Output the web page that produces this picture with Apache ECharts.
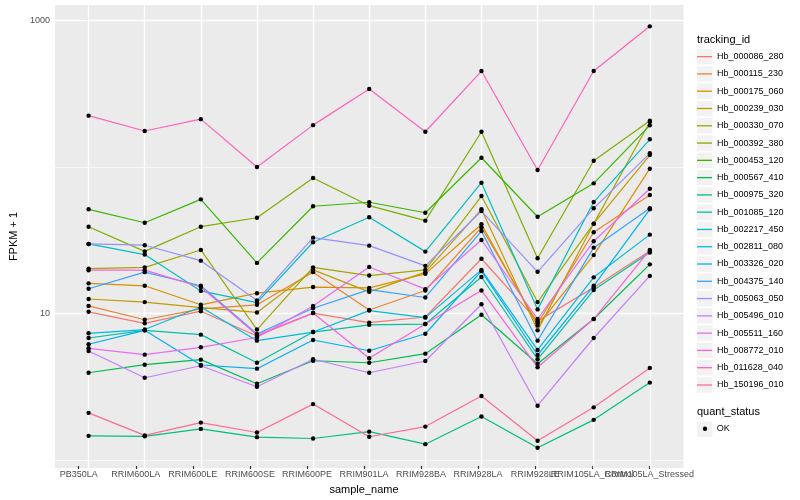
<!DOCTYPE html>
<html><head><meta charset="utf-8">
<script src="https://cdn.jsdelivr.net/npm/echarts@6/dist/echarts.min.js"></script>
<style>html,body{margin:0;padding:0;background:#fff}#c{width:800px;height:500px}</style>
</head><body><div id="c"></div>
<script>
const categories = ['PB350LA','RRIM600LA','RRIM600LE','RRIM600SE','RRIM600PE','RRIM901LA','RRIM928BA','RRIM928LA','RRIM928LE','RRIM105LA_Control','RRIM105LA_Stressed'];
const trackingIds = ['Hb_000086_280','Hb_000115_230','Hb_000175_060','Hb_000239_030','Hb_000330_070','Hb_000392_380','Hb_000453_120','Hb_000567_410','Hb_000975_320','Hb_001085_120','Hb_002217_450','Hb_002811_080','Hb_003326_020','Hb_004375_140','Hb_005063_050','Hb_005496_010','Hb_005511_160','Hb_008772_010','Hb_011628_040','Hb_150196_010'];
const lineColors = ['#F8766D','#EA8331','#D89000','#C09B00','#A3A500','#7CAE00','#39B600','#00BB4E','#00BF7D','#00C1A3','#00BFC4','#00BAE0','#00B0F6','#35A2FF','#9590FF','#C77CFF','#E76BF3','#FA62DB','#FF62BC','#FF6C91'];
const yTickLabels = [10, 1000];
const yMinorLines = [1, 100];
const quantStatus = ['OK'];

const hb_000086_280 = [10.3, 8.6, 10.4, 7.05, 10.1, 8.7, 9.5, 23.7, 8.9, 15.1, 26.8];
const hb_000115_230 = [11.3, 9.1, 10.8, 11.5, 19.2, 10.6, 14.4, 38.8, 8.6, 35.9, 64.5];
const hb_000175_060 = [16.1, 15.5, 11.5, 13.8, 15.2, 15.0, 18.7, 40.7, 8.3, 25.1, 97.4];
const hb_000239_030 = [12.6, 12.0, 11.0, 10.2, 19.9, 14.1, 19.2, 51.5, 7.7, 41.1, 120.7];
const hb_000330_070 = [20.3, 20.7, 27.2, 7.8, 20.7, 18.2, 19.9, 63.4, 12.0, 41.1, 202.7];
const hb_000392_380 = [39.2, 26.6, 39.2, 45.1, 84.1, 54.5, 43.1, 174, 23.9, 110.4, 206.8];
const hb_000453_120 = [51.5, 41.7, 60.2, 22.2, 54.0, 57.5, 48.8, 115.7, 45.8, 77.4, 192.4];
const hb_000567_410 = [3.96, 4.49, 4.86, 3.33, 4.78, 4.63, 5.34, 9.84, 4.56, 9.2, 21.7];
const hb_000975_320 = [1.47, 1.46, 1.64, 1.44, 1.41, 1.57, 1.29, 1.99, 1.22, 1.89, 3.39];
const hb_001085_120 = [6.83, 7.7, 7.2, 4.63, 7.5, 8.4, 8.5, 17.8, 4.89, 14.5, 26.1];
const hb_002217_450 = [29.9, 25.3, 14.3, 11.9, 30.7, 45.4, 26.5, 78.2, 10.7, 57.7, 154.5];
const hb_002811_080 = [7.35, 7.8, 11.1, 6.55, 7.5, 10.5, 9.4, 19.9, 5.66, 17.7, 34.6];
const hb_003326_020 = [6.19, 7.7, 4.47, 4.22, 6.62, 5.59, 7.3, 19.5, 5.23, 15.5, 51.5];
const hb_004375_140 = [14.8, 19.2, 15.5, 7.27, 10.9, 14.6, 12.9, 36.6, 6.55, 28.2, 52.3];
const hb_005063_050 = [29.9, 29.3, 23.0, 12.3, 33.0, 29.1, 21.2, 50.1, 19.3, 52.3, 124];
const hb_005496_010 = [5.57, 3.66, 4.42, 3.18, 4.89, 3.96, 4.76, 11.6, 2.36, 6.83, 18.1];
const hb_005511_160 = [5.81, 5.26, 5.90, 6.88, 11.3, 20.8, 14.7, 31.8, 9.2, 31.2, 71.1];
const hb_008772_010 = [19.8, 19.8, 15.2, 7.16, 10.1, 4.97, 8.5, 14.4, 4.31, 9.2, 27.2];
const hb_011628_040 = [224, 176, 212, 100, 193, 340, 174, 451, 95.4, 451, 910];
const hb_150196_010 = [2.11, 1.48, 1.81, 1.55, 2.42, 1.45, 1.70, 2.75, 1.36, 2.30, 4.26];

const seriesValues = [hb_000086_280, hb_000115_230, hb_000175_060, hb_000239_030, hb_000330_070, hb_000392_380, hb_000453_120, hb_000567_410, hb_000975_320, hb_001085_120, hb_002217_450, hb_002811_080, hb_003326_020, hb_004375_140, hb_005063_050, hb_005496_010, hb_005511_160, hb_008772_010, hb_011628_040, hb_150196_010];

const FONT = 'Liberation Sans, Arial, sans-serif';
const catIdx = categories.map((c, i) => i);
const PANEL = {left: 44.5, top: 5, width: 639, height: 463};
const STEP_X = PANEL.width / 11.2;
const KEY = {x: 697, top: 48, step: 17.28, w: 15.5};
const LINE_ICON = 'path://M0,0L0,0M0,8.0L15,8.0L15,9.3L0,9.3ZM15,17.28L15,17.28';
const MAJOR_W = 1.3, MINOR_W = 0.65;

const lineSeries = trackingIds.map((name, k) => ({
  type: 'line', name: name, z: 2, xAxisIndex: 0, yAxisIndex: 0,
  data: seriesValues[k].map((v, i) => [i, v]),
  symbol: 'none', showSymbol: false,
  lineStyle: {color: lineColors[k], width: 1.2},
  itemStyle: {color: lineColors[k]},
  emphasis: {disabled: true}, silent: true
}));

const pointSeries = {
  type: 'scatter', name: quantStatus[0], z: 3, xAxisIndex: 0, yAxisIndex: 0,
  data: seriesValues.flatMap(vals => vals.map((v, i) => [i, v])),
  symbol: 'circle', symbolSize: 4.4,
  itemStyle: {color: '#000000', opacity: 1, borderWidth: 0},
  emphasis: {disabled: true}, silent: true
};

const gridLineSeries = {
  type: 'line', name: '_grid', z: 1, data: [], silent: true, xAxisIndex: 0, yAxisIndex: 0,
  markLine: {
    z: 1, zlevel: 0,
    silent: true, symbol: 'none', animation: false, label: {show: false},
    emphasis: {disabled: true},
    lineStyle: {color: '#FFFFFF', type: 'solid', width: MAJOR_W},
    data: [
      ...yMinorLines.map(v => ({yAxis: v, lineStyle: {width: MINOR_W, color: '#FFFFFF', type: 'solid'}})),
      ...yTickLabels.map(v => ({yAxis: v, lineStyle: {width: MAJOR_W, color: '#FFFFFF', type: 'solid'}})),
      ...catIdx.map(i => ({xAxis: i, lineStyle: {width: MAJOR_W, color: '#FFFFFF', type: 'solid'}}))
    ]
  }
};

const keyRects = trackingIds.map((n, i) => ({
  type: 'rect', z: -1, silent: true,
  shape: {x: KEY.x, y: KEY.top + i * KEY.step + 0.9, width: KEY.w, height: KEY.step - 1.8},
  style: {fill: '#F2F2F2'}
}));
keyRects.push({
  type: 'rect', z: -1, silent: true,
  shape: {x: KEY.x, y: 420.7 + 0.9, width: KEY.w, height: KEY.step - 1.8},
  style: {fill: '#F2F2F2'}
});

const chart = echarts.init(document.getElementById('c'), null, {renderer: 'canvas'});
chart.setOption({
  animation: false,
  backgroundColor: '#FFFFFF',
  textStyle: {fontFamily: FONT},
  title: [
    {text: 'tracking_id', left: 697, top: 34, padding: 0, textStyle: {fontSize: 11, fontWeight: 'normal', color: '#000', fontFamily: FONT}},
    {text: 'quant_status', left: 697, top: 406, padding: 0, textStyle: {fontSize: 11, fontWeight: 'normal', color: '#000', fontFamily: FONT}}
  ],
  graphic: keyRects,
  legend: [
    {
      data: trackingIds.map(n => ({name: n, icon: LINE_ICON})), orient: 'vertical', left: KEY.x, top: KEY.top, padding: 0,
      itemWidth: 15, itemHeight: KEY.step, itemGap: 0, selectedMode: false,
      textStyle: {fontSize: 9, color: '#000', fontFamily: FONT}
    },
    {
      data: [{name: quantStatus[0], icon: 'circle'}], orient: 'vertical', left: KEY.x + 5.8, top: 424.3, padding: 0,
      itemWidth: 4.4, itemHeight: 4.4, itemGap: 0, selectedMode: false,
      itemStyle: {color: '#000000', opacity: 1, borderWidth: 0},
      textStyle: {fontSize: 9, color: '#000', fontFamily: FONT, padding: [0, 0, 0, 4.6]}
    }
  ],
  grid: [
    {left: PANEL.left, top: PANEL.top, width: PANEL.width, height: PANEL.height, show: true, backgroundColor: '#EBEBEB', borderWidth: 0},
    {left: PANEL.left + 0.1 * STEP_X, top: PANEL.top, width: 11 * STEP_X, height: PANEL.height, show: false}
  ],
  xAxis: [
    {
      type: 'value', gridIndex: 0, min: -0.6, max: 10.6,
      axisLine: {show: false}, axisTick: {show: false}, axisLabel: {show: false}, splitLine: {show: false}
    },
    {
      type: 'category', gridIndex: 1, data: categories, boundaryGap: true,
      axisLine: {show: false},
      axisTick: {show: true, alignWithLabel: true, interval: 0, length: 3, lineStyle: {color: '#333333', width: 1.2}},
      axisLabel: {interval: 0, color: '#4D4D4D', fontSize: 9, margin: 4, hideOverlap: false},
      splitLine: {show: false},
      name: 'sample_name', nameLocation: 'middle', nameGap: 18,
      nameTextStyle: {color: '#000', fontSize: 11, fontFamily: FONT}
    }
  ],
  yAxis: [
    {
      type: 'log', gridIndex: 0, logBase: 10, min: 0.8875, max: 1272,
      axisLine: {show: false},
      axisTick: {show: true, length: 3, lineStyle: {color: '#333333', width: 1.2}, customValues: yTickLabels},
      axisLabel: {customValues: yTickLabels, formatter: v => (Math.abs(v - 10) < 1e-6 || Math.abs(v - 1000) < 1e-3) ? String(Math.round(v)) : '', color: '#4D4D4D', fontSize: 9, margin: 5},
      splitLine: {show: false},
      name: 'FPKM + 1', nameLocation: 'middle', nameGap: 27, nameRotate: 90,
      nameTextStyle: {color: '#000', fontSize: 11, fontFamily: FONT}
    },
    {type: 'value', gridIndex: 1, show: false}
  ],
  series: [gridLineSeries, ...lineSeries, pointSeries]
});
</script>
</body></html>
